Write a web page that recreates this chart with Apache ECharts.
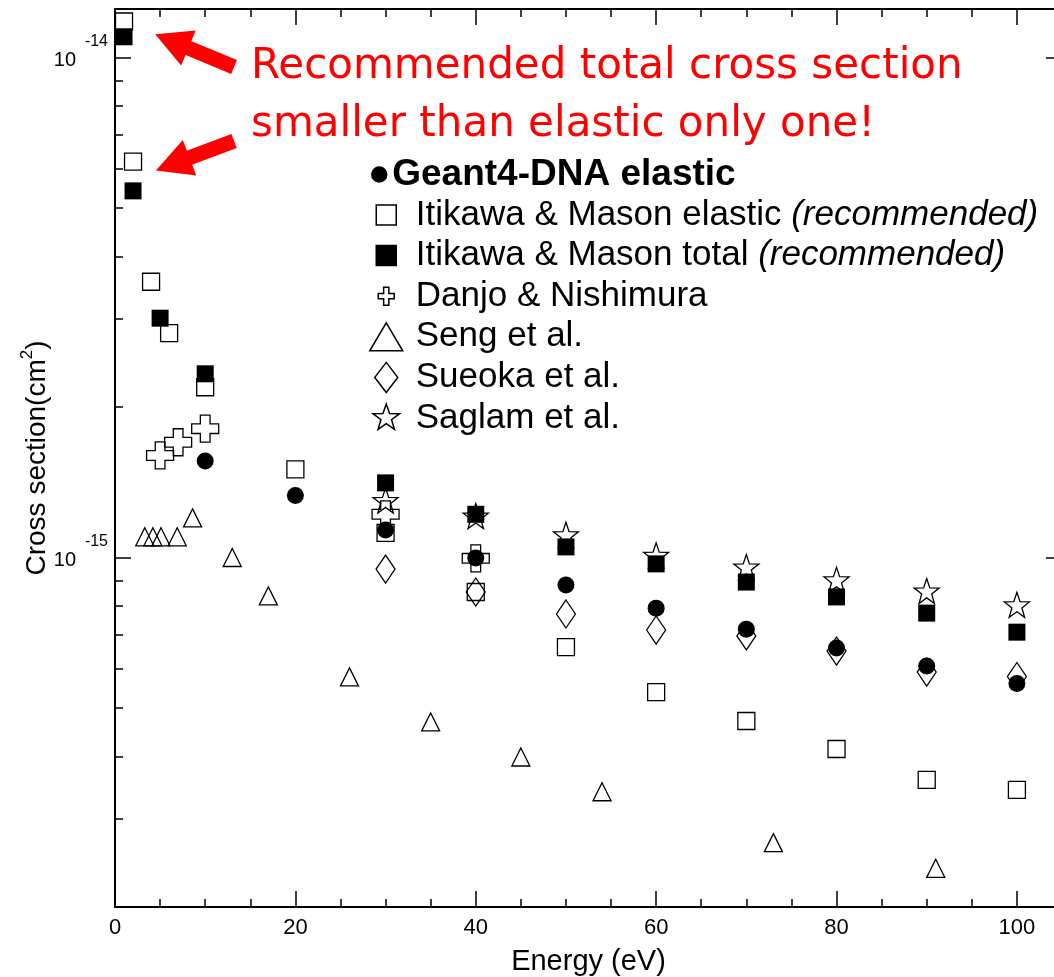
<!DOCTYPE html>
<html><head><meta charset="utf-8">
<script src="https://cdn.jsdelivr.net/npm/echarts@6/dist/echarts.min.js"></script>
<style>html,body{margin:0;padding:0;background:#fff}#c{width:1054px;height:977px}</style>
</head><body><div id="c"></div>
<script>
// ---- data (energy in eV, cross section in cm^2) ----
const geantE = [10, 20, 30, 40, 50, 60, 70, 80, 90, 100];
const geantCS = [1.56e-15, 1.33e-15, 1.135e-15, 0.998e-15, 0.881e-15, 0.792e-15, 0.719e-15, 0.659e-15, 0.607e-15, 0.560e-15];
const itikawaElE = [1, 2, 4, 6, 10, 20, 30, 40, 50, 60, 70, 80, 90, 100];
const itikawaElCS = [11.8e-15, 6.19e-15, 3.56e-15, 2.81e-15, 2.19e-15, 1.50e-15, 1.12e-15, 0.853e-15, 0.662e-15, 0.538e-15, 0.471e-15, 0.414e-15, 0.359e-15, 0.343e-15];
const itikawaTotE = [1, 2, 5, 10, 30, 40, 50, 60, 70, 80, 90, 100];
const itikawaTotCS = [11.0e-15, 5.41e-15, 3.01e-15, 2.33e-15, 1.41e-15, 1.22e-15, 1.05e-15, 0.971e-15, 0.893e-15, 0.834e-15, 0.774e-15, 0.709e-15];
const danjoE = [5, 7, 10, 30, 40];
const danjoCS = [1.60e-15, 1.70e-15, 1.81e-15, 1.22e-15, 0.996e-15];
const sengE = [3.3, 4.2, 5.1, 6.9, 8.6, 13, 17, 26, 35, 45, 54, 73, 91];
const sengCS = [1.10e-15, 1.10e-15, 1.10e-15, 1.10e-15, 1.20e-15, 1.00e-15, 0.838e-15, 0.577e-15, 0.469e-15, 0.399e-15, 0.340e-15, 0.269e-15, 0.239e-15];
const sueokaE = [30, 40, 50, 60, 70, 80, 90, 100];
const sueokaCS = [0.948e-15, 0.853e-15, 0.771e-15, 0.716e-15, 0.697e-15, 0.650e-15, 0.590e-15, 0.578e-15];
const saglamE = [30, 40, 50, 60, 70, 80, 90, 100];
const saglamCS = [1.30e-15, 1.21e-15, 1.11e-15, 1.01e-15, 0.957e-15, 0.902e-15, 0.857e-15, 0.804e-15];

// axis ticks
const xMajorTicks = [0, 20, 40, 60, 80, 100];
const yMajorTicks = [1e-15, 1e-14];
const yMinorTicks = [2e-16, 3e-16, 4e-16, 5e-16, 6e-16, 7e-16, 8e-16, 9e-16,
                     2e-15, 3e-15, 4e-15, 5e-15, 6e-15, 7e-15, 8e-15, 9e-15];
const yRange = [2e-16, 1.25e-14];
const xRange = [0, 105];

// annotation arrows [tail, head] in data space
const arrow1 = [[13.2, 9.57e-15], [6.3, 1.078e-14]];
const arrow2 = [[13.2, 6.81e-15], [6.4, 6.12e-15]];

const LG = Math.log10;
const pts = (xs, ys) => xs.map((x, i) => [x, LG(ys[i])]);

const FONT = "'Liberation Sans', Arial, sans-serif";
const BLACK = '#000';
const CLEAR = 'rgba(0,0,0,0)';
const OPEN = {color: CLEAR, borderColor: BLACK, borderWidth: 1.3, opacity: 1};
const FILLED = {color: BLACK, borderColor: BLACK, borderWidth: 0, opacity: 1};

const CROSS = 'path://M-1.8,-5L1.8,-5L1.8,-1.8L5,-1.8L5,1.8L1.8,1.8L1.8,5L-1.8,5L-1.8,1.8L-5,1.8L-5,-1.8L-1.8,-1.8Z';
const STAR = 'path://M0,-10L2.35,-3.24L9.51,-3.09L3.8,1.24L5.88,8.09L0,4L-5.88,8.09L-3.8,1.24L-9.51,-3.09L-2.35,-3.24Z';

// legend icons (the lone M points pad the box so each icon keeps its own size)
const PAD = 'M-16.5,-15M16.5,15';
const IC_CIRCLE = 'path://M-7.5,-15M7.5,15M-7.5,0A7.5,7.5,0,1,1,7.5,0A7.5,7.5,0,1,1,-7.5,0Z';
const IC_SQUARE = 'path://' + PAD + 'M-10,-10L10,-10L10,10L-10,10Z';
const IC_CROSS = 'path://' + PAD + 'M-2.6,-9L2.6,-9L2.6,-2.6L8,-2.6L8,2.6L2.6,2.6L2.6,9L-2.6,9L-2.6,2.6L-8,2.6L-8,-2.6L-2.6,-2.6Z';
const IC_TRI = 'path://' + PAD + 'M0,-14L16.5,14L-16.5,14Z';
const IC_DIAMOND = 'path://' + PAD + 'M0,-15L11.5,0L0,15L-11.5,0Z';
const IC_STAR = 'path://' + PAD + 'M0,-14L3.3,-4.5L13.3,-4.3L5.3,1.7L8.2,11.3L0,5.6L-8.2,11.3L-5.3,1.7L-13.3,-4.3L-3.3,-4.5Z';

const yMin = LG(yRange[0]), yMax = LG(yRange[1]);
const majorLog = yMajorTicks.map(LG);
const minorLog = yMinorTicks.map(LG);

const baseY = {type: 'value', min: yMin, max: yMax, offset: 0, splitLine: {show: false}};
const baseX = {type: 'value', min: xRange[0], max: xRange[1], offset: 0, splitLine: {show: false}};
const frameLine = {show: true, onZero: false, lineStyle: {color: BLACK, width: 2}};
const ghostLine = {show: true, onZero: false, lineStyle: {color: CLEAR, width: 1}};
const tickLine = {color: BLACK, width: 1.5};

const legendText = {
  fontSize: 35, lineHeight: 35, fontFamily: FONT, color: BLACK, padding: [0, 0, 0, 8],
  rich: {i: {fontSize: 35, lineHeight: 35, fontFamily: FONT, color: BLACK, fontStyle: 'italic'}}
};

const option = {
  animation: false,
  backgroundColor: '#fff',
  grid: {left: 115, top: 9, width: 947, height: 898, containLabel: false, outerBoundsMode: 'none'},
  xAxis: [
    Object.assign({}, baseX, {
      position: 'bottom', axisLine: frameLine,
      axisTick: {show: true, inside: true, length: 16, lineStyle: tickLine, customValues: xMajorTicks},
      axisLabel: {show: true, customValues: xMajorTicks, fontSize: 22, fontFamily: FONT, color: BLACK, margin: 10},
      name: 'Energy (eV)', nameLocation: 'middle', nameGap: 40,
      nameTextStyle: {fontSize: 29, fontFamily: FONT, color: BLACK}
    }),
    Object.assign({}, baseX, {
      position: 'bottom', interval: 5, axisLine: ghostLine,
      axisTick: {show: true, inside: true, length: 8, lineStyle: tickLine},
      axisLabel: {show: false}
    }),
    Object.assign({}, baseX, {
      position: 'top', axisLine: frameLine,
      axisTick: {show: true, inside: true, length: 16, lineStyle: tickLine, customValues: xMajorTicks},
      axisLabel: {show: false}
    }),
    Object.assign({}, baseX, {
      position: 'top', interval: 5, axisLine: ghostLine,
      axisTick: {show: true, inside: true, length: 8, lineStyle: tickLine},
      axisLabel: {show: false}
    })
  ],
  yAxis: [
    Object.assign({}, baseY, {
      position: 'left', axisLine: frameLine,
      axisTick: {show: true, inside: true, length: 16, lineStyle: tickLine, customValues: majorLog},
      axisLabel: {
        show: true, customValues: majorLog, margin: 39, fontSize: 20, lineHeight: 6,
        fontFamily: FONT, color: BLACK, formatter: () => ' \n10'
      },
      name: '{a|Cross section(cm}{s|2}{a|)}', nameLocation: 'middle', nameGap: 64, nameRotate: 90,
      nameMoveOverlap: false,
      nameTextStyle: {
        rich: {
          a: {fontSize: 28, lineHeight: 32, fontFamily: FONT, color: BLACK, verticalAlign: 'bottom'},
          s: {fontSize: 17, lineHeight: 17, fontFamily: FONT, color: BLACK, verticalAlign: 'top'}
        }
      }
    }),
    Object.assign({}, baseY, {
      position: 'left', axisLine: ghostLine,
      axisTick: {show: true, inside: true, length: 8, lineStyle: tickLine, customValues: minorLog},
      axisLabel: {
        show: true, customValues: majorLog, margin: 7, fontSize: 16, lineHeight: 32,
        fontFamily: FONT, color: BLACK, formatter: v => String(Math.round(v)) + '\n '
      }
    }),
    Object.assign({}, baseY, {
      position: 'right', axisLine: frameLine,
      axisTick: {show: true, inside: true, length: 16, lineStyle: tickLine, customValues: majorLog},
      axisLabel: {show: false}
    }),
    Object.assign({}, baseY, {
      position: 'right', axisLine: ghostLine,
      axisTick: {show: true, inside: true, length: 8, lineStyle: tickLine, customValues: minorLog},
      axisLabel: {show: false}
    })
  ],
  legend: [
    {
      orient: 'vertical', left: 366, top: 151,
      itemWidth: 16, itemHeight: 30, selectedMode: false,
      itemStyle: {borderWidth: 1.5},
      textStyle: Object.assign({}, legendText, {fontWeight: 'bold', fontSize: 37, padding: 0}),
      data: [{name: 'Geant4-DNA elastic', icon: IC_CIRCLE}]
    },
    {
      orient: 'vertical', left: 364, top: 192.5,
      itemWidth: 33, itemHeight: 30, itemGap: 5.6, selectedMode: false,
      itemStyle: {borderWidth: 1.5},
      textStyle: legendText,
      formatter: n => (n.indexOf('Itikawa') === 0 ? n + ' {i|(recommended)}' : n),
      data: [
        {name: 'Itikawa & Mason elastic', icon: IC_SQUARE},
        {name: 'Itikawa & Mason total', icon: IC_SQUARE},
        {name: 'Danjo & Nishimura', icon: IC_CROSS},
        {name: 'Seng et al.', icon: IC_TRI},
        {name: 'Sueoka et al.', icon: IC_DIAMOND},
        {name: 'Saglam et al.', icon: IC_STAR}
      ]
    }
  ],
  graphic: [
    {type: 'text', left: 251, top: 46, silent: true,
     style: {text: 'Recommended total cross section', fill: '#ff0000', fontSize: 42, fontFamily: "'DejaVu Sans'"}},
    {type: 'text', left: 251, top: 104, silent: true,
     style: {text: 'smaller than elastic only one!', fill: '#ff0000', fontSize: 42, fontFamily: "'DejaVu Sans'"}}
  ],
  series: [
    {name: 'Seng et al.', type: 'scatter', symbol: 'triangle', symbolSize: 18, itemStyle: OPEN, data: pts(sengE, sengCS)},
    {name: 'Sueoka et al.', type: 'scatter', symbol: 'diamond', symbolSize: [19, 28], itemStyle: OPEN, data: pts(sueokaE, sueokaCS)},
    {name: 'Danjo & Nishimura', type: 'scatter', symbol: CROSS, symbolSize: 27, itemStyle: OPEN, data: pts(danjoE, danjoCS)},
    {name: 'Saglam et al.', type: 'scatter', symbol: STAR, symbolSize: 25, itemStyle: OPEN, data: pts(saglamE, saglamCS)},
    {name: 'Itikawa & Mason elastic', type: 'scatter', symbol: 'rect', symbolSize: 17, itemStyle: OPEN, data: pts(itikawaElE, itikawaElCS)},
    {name: 'Itikawa & Mason total', type: 'scatter', symbol: 'rect', symbolSize: 17, itemStyle: FILLED, data: pts(itikawaTotE, itikawaTotCS)},
    {name: 'Geant4-DNA elastic', type: 'scatter', symbol: 'circle', symbolSize: 17, itemStyle: FILLED, data: pts(geantE, geantCS),
     markLine: {
       silent: true, animation: false, label: {show: false},
       lineStyle: {color: '#ff0000', width: 15, type: 'solid', cap: 'butt', opacity: 1},
       emphasis: {disabled: true},
       data: [arrow1, arrow2].map(a => [
         {coord: [a[0][0], LG(a[0][1])], symbol: 'none'},
         {coord: [a[1][0], LG(a[1][1])], symbol: 'triangle', symbolSize: [38, 36]}
       ])
     }}
  ]
};
const chart = echarts.init(document.getElementById('c'), null, {renderer: 'canvas'});
chart.setOption(option);
</script></body></html>
